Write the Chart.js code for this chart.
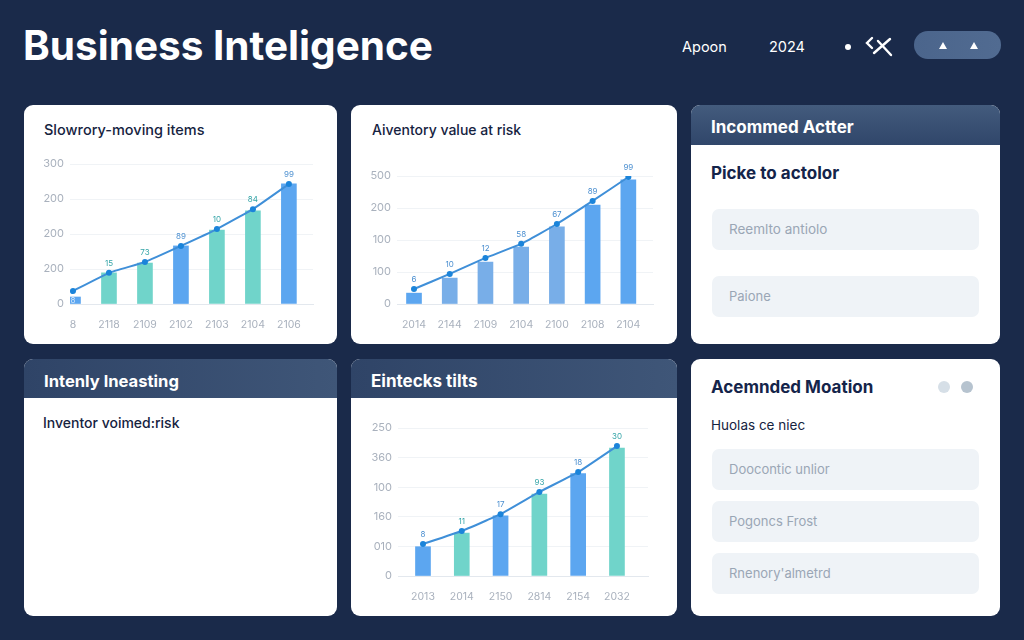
<!DOCTYPE html>
<html>
<head>
<meta charset="utf-8">
<script src="https://cdn.jsdelivr.net/npm/chart.js@4"></script>
<style>
html, body { margin: 0; width: 1024px; height: 640px; overflow: hidden; background: #1a2a4a; font-family: Inter, sans-serif; }
.abs, .card, canvas, .field { position: absolute; }
.main-title { left: 23px; top: 21px; font-size: 40.5px; line-height: 50px; font-weight: 700; color: #fff; white-space: nowrap; }
.top-text { top: 38px; font-size: 14.5px; line-height: 18px; color: #fff; }
.pill { left: 914px; top: 31px; width: 87px; height: 28px; border-radius: 14px; background: linear-gradient(90deg, #4b658c, #516b91); }
.card { background: #fff; border-radius: 9px; overflow: hidden; }
.head { position: absolute; left: 0; top: 0; right: 0; height: 39px; background: linear-gradient(90deg, #2f4467, #3f5678); color: #fff; font-size: 17px; font-weight: 700; line-height: 44px; padding-left: 20px; white-space: nowrap; }
.sub { position: absolute; font-size: 14px; font-weight: 500; color: #16233f; white-space: nowrap; line-height: 18px; }
.bold { font-size: 17px; font-weight: 700; color: #14244a; }
.field { left: 21px; width: 267px; height: 41px; border-radius: 7px; background: #eff3f7; color: #9aa6b5; font-size: 13px; line-height: 41px; padding-left: 17px; box-sizing: border-box; }
.dot { position: absolute; border-radius: 50%; }
</style>
</head>
<body>
<div class="abs main-title">Business Inteligence</div>
<div class="abs top-text" style="left:682px">Apoon</div>
<div class="abs top-text" style="left:769px">2024</div>
<div class="abs" style="left:845px;top:44px;width:6px;height:6px;border-radius:50%;background:#fff"></div>
<svg class="abs" style="left:864px;top:36px" width="30" height="22" fill="none" stroke="#fff" stroke-width="2.4" stroke-linecap="round">
  <path d="M8 2 L3 7 L8 12 M10 17 L26 3 M14 5 L27 19"/>
</svg>
<div class="abs pill"></div>
<svg class="abs" style="left:938px;top:41px" width="42" height="10" fill="#fff">
  <path d="M5 1 L9 8 L1 8 Z M36 1 L40 8 L32 8 Z"/>
</svg>

<div class="card" style="left:24px;top:105px;width:313px;height:239px">
  <div class="sub" style="left:20px;top:16px;font-size:14.5px">Slowrory-moving items</div>
</div>
<div class="card" style="left:351px;top:105px;width:326px;height:239px">
  <div class="sub" style="left:21px;top:16px">Aiventory value at risk</div>
</div>
<div class="card" style="left:691px;top:105px;width:309px;height:239px">
  <div class="head" style="height:40px;background:linear-gradient(180deg, #435b7d, #30466a)">Incommed Actter</div>
  <div class="sub bold" style="left:20px;top:59px">Picke to actolor</div>
  <div class="field" style="top:104px;font-size:13.5px">Reemlto antiolo</div>
  <div class="field" style="top:171px">Paione</div>
</div>
<div class="card" style="left:24px;top:359px;width:313px;height:257px">
  <div class="head" style="font-size:16.6px">Intenly lneasting</div>
  <div class="sub" style="left:19px;top:55px">Inventor voimed:risk</div>
</div>
<div class="card" style="left:351px;top:359px;width:326px;height:257px">
  <div class="head">Eintecks tilts</div>
</div>
<div class="card" style="left:691px;top:359px;width:309px;height:257px">
  <div class="sub bold" style="left:20px;top:19px">Acemnded Moation</div>
  <div class="dot" style="left:247px;top:22px;width:12px;height:12px;background:#d6dfe7"></div>
  <div class="dot" style="left:270px;top:22px;width:12px;height:12px;background:#b6c3cf"></div>
  <div class="sub" style="left:20px;top:57px;font-size:13.5px;font-weight:400">Huolas ce niec</div>
  <div class="field" style="top:90px">Doocontic unlior</div>
  <div class="field" style="top:142px">Pogoncs Frost</div>
  <div class="field" style="top:194px">Rnenory'almetrd</div>
</div>

<canvas id="chart1" style="left:24px;top:150px" width="313" height="190"></canvas>
<canvas id="chart2" style="left:351px;top:150px" width="326" height="190"></canvas>
<canvas id="chart3" style="left:351px;top:410px" width="326" height="200"></canvas>

<script>
const TEAL = '#70d4ca';
const BLUE = '#5ca6f0';
const SOFT = '#78aee8';

// Slow moving items
const cats1 = ['8', '2118', '2109', '2102', '2103', '2104', '2106'];
const bars1 = [20, 89, 117, 166, 211, 266, 343];
const line1 = [37, 89, 120, 166, 214, 271, 343];
const ticks1 = ['0', '200', '200', '200', '300'];
const notes1 = ['8', '15', '73', '89', '10', '84', '99'];
const colors1 = [BLUE, TEAL, TEAL, BLUE, TEAL, TEAL, BLUE];

// Value at risk
const cats2 = ['2014', '2144', '2109', '2104', '2100', '2108', '2104'];
const bars2 = [34, 81, 131, 178, 241, 309, 388];
const line2 = [47, 94, 144, 188, 250, 322, 397];
const ticks2 = ['0', '100', '100', '200', '500'];
const notes2 = ['6', '10', '12', '58', '67', '89', '99'];
const colors2 = [BLUE, SOFT, SOFT, SOFT, SOFT, BLUE, BLUE];

// Eintecks
const cats3 = ['2013', '2014', '2150', '2814', '2154', '2032'];
const bars3 = [99, 145, 203, 277, 346, 432];
const line3 = [108, 152, 209, 284, 351, 439];
const ticks3 = ['0', '010', '160', '100', '360', '250'];
const notes3 = ['8', '11', '17', '93', '18', '30'];
const colors3 = [BLUE, TEAL, BLUE, TEAL, BLUE, TEAL];

Chart.defaults.font.family = 'Inter, sans-serif';

// small numbers above the line points
const notePlugin = {
    id: 'notes',
    afterDatasetsDraw(chart, args, opts) {
        const ctx = chart.ctx;
        const points = chart.getDatasetMeta(1).data;
        const barEls = chart.getDatasetMeta(0).data;
        ctx.save();
        ctx.font = '8px Inter';
        ctx.textAlign = 'center';
        points.forEach((p, i) => {
            ctx.fillStyle = opts.colors[i] === TEAL ? '#35a5a8' : '#4b8fd0';
            if (i === 0 && opts.firstOnBar) {
                // first chart has this one sitting inside the bar
                ctx.fillStyle = '#d5e8fb';
                ctx.fillText(opts.labels[i], p.x, barEls[i].y + 6);
            } else {
                ctx.fillText(opts.labels[i], p.x, p.y - 7);
            }
        });
        ctx.restore();
    }
};

function makeChart(id, cats, bars, line, ticks, notes, colors, o) {
    new Chart(document.getElementById(id), {
        type: 'bar',
        plugins: [notePlugin],
        data: {
            datasets: [
                {
                    data: bars.map((v, i) => ({ x: i, y: v })),
                    backgroundColor: colors,
                    barThickness: 15,
                    order: 2
                },
                {
                    type: 'line',
                    data: line.map((v, i) => ({ x: i, y: v })),
                    borderColor: '#3f8fd8',
                    borderWidth: 2,
                    pointBackgroundColor: '#1b84da',
                    pointBorderWidth: 0,
                    pointRadius: 3,
                    tension: 0.1,
                    order: 1
                }
            ]
        },
        options: {
            responsive: false,
            animation: false,
            layout: { padding: o.padding },
            plugins: {
                legend: { display: false },
                tooltip: { enabled: false },
                notes: { labels: notes, colors: colors, firstOnBar: o.firstOnBar }
            },
            scales: {
                x: {
                    type: 'linear',
                    offset: false,
                    min: o.xMin,
                    max: o.xMax,
                    grid: { display: false, offset: false },
                    border: { color: '#e3e8ee' },
                    afterBuildTicks: ax => { ax.ticks = cats.map((c, i) => ({ value: i })); },
                    afterFit: ax => { ax.height = o.xHeight; },
                    ticks: {
                        color: '#a9b1bd',
                        font: { size: 10.5 },
                        padding: 7,
                        maxRotation: 0,
                        autoSkip: false,
                        callback: v => cats[v]
                    }
                },
                y: {
                    min: 0,
                    max: o.yMax,
                    grid: { color: '#f0f3f6', drawTicks: false },
                    border: { display: false },
                    afterFit: ax => { ax.width = o.yWidth; },
                    ticks: {
                        stepSize: 100,
                        color: '#a9b1bd',
                        font: { size: 11 },
                        padding: 6,
                        callback: (v, i) => ticks[i]
                    }
                }
            }
        }
    });
}

makeChart('chart1', cats1, bars1, line1, ticks1, notes1, colors1, {
    padding: { top: 14, right: 24 }, xMin: -0.083, xMax: 6.67, yMax: 400, xHeight: 36, yWidth: 46, firstOnBar: true
});
makeChart('chart2', cats2, bars2, line2, ticks2, notes2, colors2, {
    padding: { top: 26, right: 24 }, xMin: -0.476, xMax: 6.69, yMax: 400, xHeight: 36, yWidth: 46
});
makeChart('chart3', cats3, bars3, line3, ticks3, notes3, colors3, {
    padding: { top: 18, right: 29 }, xMin: -0.644, xMax: 5.8, yMax: 500, xHeight: 34, yWidth: 47
});
</script>
</body>
</html>
